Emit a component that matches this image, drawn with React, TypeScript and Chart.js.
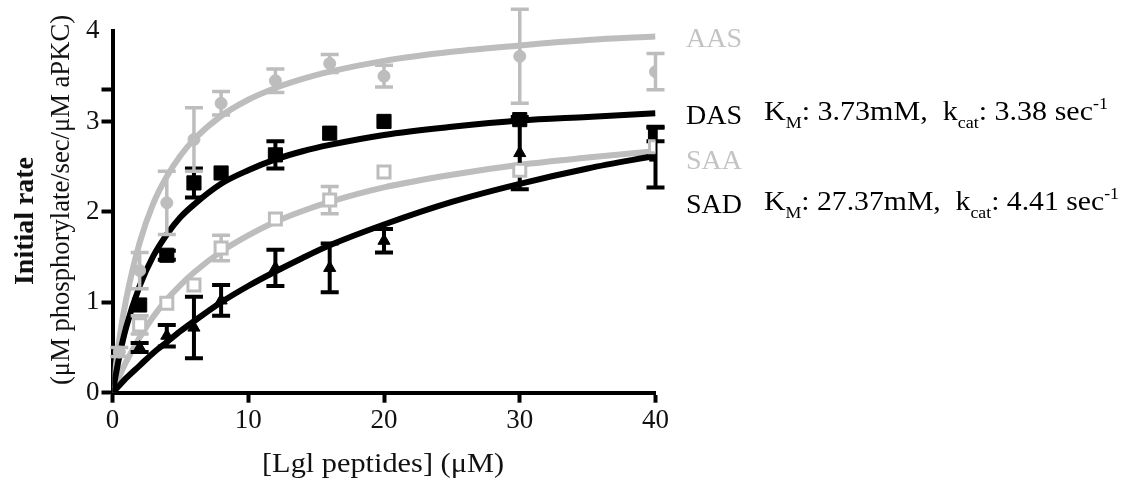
import React, { useEffect, useRef } from 'react';
import { Chart, registerables } from 'chart.js';

Chart.register(...registerables);

// ---- axis ticks ----
const xTickValues = [0, 10, 20, 30, 40];
const yTickValues = [0, 1, 2, 3, 3.35, 4];

// ---- fitted curves ----
const fitX = [0, 0.5, 1, 2, 3, 4, 5, 6, 8, 10, 12, 14, 16, 20, 25, 30, 35, 40];
const aasFit = [0, 0.59, 1.03, 1.66, 2.09, 2.39, 2.62, 2.8, 3.06, 3.24, 3.37, 3.47, 3.55, 3.67, 3.77, 3.84, 3.9, 3.94];
const dasFit = [0, 0.4, 0.72, 1.18, 1.51, 1.75, 1.94, 2.08, 2.31, 2.46, 2.58, 2.67, 2.74, 2.85, 2.94, 3.01, 3.05, 3.09];
const saaFit = [0, 0.18, 0.34, 0.61, 0.84, 1.03, 1.19, 1.33, 1.56, 1.74, 1.89, 2.01, 2.11, 2.27, 2.41, 2.52, 2.6, 2.67];
const sadFit = [0, 0.08, 0.16, 0.3, 0.44, 0.56, 0.68, 0.79, 1.0, 1.18, 1.34, 1.49, 1.63, 1.86, 2.11, 2.31, 2.48, 2.62];

// ---- measured points ----
const aasX = [0.5, 2, 4, 6, 8, 12, 16, 20, 30, 40];
const aasY = [0.45, 1.35, 2.1, 2.8, 3.2, 3.45, 3.64, 3.5, 3.72, 3.55];
const aasErr = [0.05, 0.2, 0.35, 0.35, 0.13, 0.13, 0.1, 0.12, 0.52, 0.2];

const dasX = [2, 4, 6, 8, 12, 16, 20, 30, 40];
const dasY = [0.97, 1.52, 2.32, 2.43, 2.63, 2.87, 3.0, 3.02, 2.86];
const dasErr = [0, 0.05, 0.16, 0, 0.15, 0, 0, 0, 0.08];

const saaX = [2, 4, 6, 8, 12, 16, 20, 30, 40];
const saaY = [0.75, 0.99, 1.19, 1.6, 1.92, 2.13, 2.44, 2.46, 2.72];
const saaErr = [0.1, 0, 0, 0.14, 0, 0.15, 0, 0, 0];

const sadX = [2, 4, 6, 8, 12, 16, 20, 30, 40];
const sadY = [0.5, 0.63, 0.72, 1.02, 1.38, 1.38, 1.68, 2.65, 2.6];
const sadErr = [0.05, 0.12, 0.34, 0.17, 0.2, 0.27, 0.13, 0.4, 0.33];

const GRAY = '#bdbdbd';
const BLACK = '#000000';
const SERIF = "'Liberation Serif', 'Times New Roman', serif";

type Part = { t: string; sub?: boolean; sup?: boolean };

function drawRich(
  ctx: CanvasRenderingContext2D,
  x: number,
  y: number,
  parts: Part[],
  size: number,
  color: string,
  targetWidth?: number
) {
  const small = size * 0.6;
  let total = 0;
  for (const p of parts) {
    ctx.font = `${p.sub || p.sup ? small : size}px ${SERIF}`;
    total += ctx.measureText(p.t).width;
  }
  ctx.save();
  ctx.translate(x, y);
  if (targetWidth) ctx.scale(targetWidth / total, 1);
  ctx.fillStyle = color;
  ctx.textAlign = 'left';
  ctx.textBaseline = 'alphabetic';
  let cx = 0;
  for (const p of parts) {
    ctx.font = `${p.sub || p.sup ? small : size}px ${SERIF}`;
    const dy = p.sub ? size * 0.3 : p.sup ? -size * 0.4 : 0;
    ctx.fillText(p.t, cx, dy);
    cx += ctx.measureText(p.t).width;
  }
  ctx.restore();
}

function drawFitted(
  ctx: CanvasRenderingContext2D,
  text: string,
  x: number,
  y: number,
  font: string,
  color: string,
  targetWidth: number,
  rotate: boolean
) {
  ctx.save();
  ctx.font = font;
  const w = ctx.measureText(text).width;
  ctx.translate(x, y);
  if (rotate) ctx.rotate(-Math.PI / 2);
  ctx.scale(targetWidth / w, 1);
  ctx.fillStyle = color;
  ctx.textAlign = 'center';
  ctx.textBaseline = 'alphabetic';
  ctx.fillText(text, 0, 0);
  ctx.restore();
}

const errorBarPlugin = {
  id: 'errorBars',
  beforeDatasetDraw(chart: any, args: any) {
    const ds = chart.data.datasets[args.index];
    if (!ds.errors) return;
    const ctx = chart.ctx;
    const xs = chart.scales.x;
    const ys = chart.scales.y;
    ctx.save();
    ctx.strokeStyle = ds.errorColor;
    ctx.lineWidth = ds.errorWidth;
    ctx.lineCap = 'butt';
    ds.data.forEach((pt: any, i: number) => {
      const e = ds.errors[i];
      if (!(e > 0)) return;
      const px = xs.getPixelForValue(pt.x);
      const top = ys.getPixelForValue(pt.y + e);
      const bot = ys.getPixelForValue(pt.y - e);
      const half = 9;
      ctx.beginPath();
      ctx.moveTo(px, top);
      ctx.lineTo(px, bot);
      ctx.moveTo(px - half, top);
      ctx.lineTo(px + half, top);
      ctx.moveTo(px - half, bot);
      ctx.lineTo(px + half, bot);
      ctx.stroke();
    });
    ctx.restore();
  },
};

const textPlugin = {
  id: 'textLabels',
  afterDraw(chart: any) {
    const ctx: CanvasRenderingContext2D = chart.ctx;
    // series labels
    ctx.save();
    ctx.font = `28px ${SERIF}`;
    ctx.textAlign = 'left';
    ctx.textBaseline = 'alphabetic';
    ctx.fillStyle = '#c4c4c4';
    ctx.fillText('AAS', 686, 47);
    ctx.fillText('SAA', 686, 169);
    ctx.fillStyle = BLACK;
    ctx.fillText('DAS', 686, 124);
    ctx.fillText('SAD', 686, 213);
    ctx.restore();

    drawRich(
      ctx,
      764,
      120,
      [
        { t: 'K' },
        { t: 'M', sub: true },
        { t: ': 3.73mM,  k' },
        { t: 'cat', sub: true },
        { t: ': 3.38 sec' },
        { t: '-1', sup: true },
      ],
      27,
      BLACK,
      344
    );
    drawRich(
      ctx,
      764,
      210,
      [
        { t: 'K' },
        { t: 'M', sub: true },
        { t: ': 27.37mM,  k' },
        { t: 'cat', sub: true },
        { t: ': 4.41 sec' },
        { t: '-1', sup: true },
      ],
      27,
      BLACK,
      355
    );

    // axis titles
    drawFitted(ctx, '[Lgl peptides] (\u03bcM)', 383, 472, `28px ${SERIF}`, '#111', 242, false);
    drawFitted(ctx, 'Initial rate', 33, 221, `bold 28px ${SERIF}`, '#111', 128, true);
    drawFitted(ctx, '(\u03bcM phosphorylate/sec/\u03bcM aPKC)', 69, 200, `27px ${SERIF}`, '#111', 370, true);
  },
};

export default function App() {
  const canvasRef = useRef<HTMLCanvasElement | null>(null);

  useEffect(() => {
    if (!canvasRef.current) return;
    const pts = (xs: number[], ys: number[]) => xs.map((x, i) => ({ x, y: ys[i] }));

    const curve = (ys: number[], color: string, order: number) => ({
      type: 'line' as const,
      data: pts(fitX, ys),
      borderColor: color,
      borderWidth: 6,
      pointRadius: 0,
      fill: false,
      cubicInterpolationMode: 'monotone' as const,
      order,
    });

    const chart = new Chart(canvasRef.current, {
      type: 'scatter',
      data: {
        datasets: [
          curve(aasFit, GRAY, 20),
          curve(saaFit, GRAY, 19),
          curve(dasFit, BLACK, 18),
          curve(sadFit, BLACK, 17),
          {
            label: 'SAD',
            data: pts(sadX, sadY),
            errors: sadErr,
            errorColor: BLACK,
            errorWidth: 4,
            pointStyle: 'triangle',
            pointRadius: 7,
            backgroundColor: BLACK,
            borderColor: BLACK,
            borderWidth: 1,
            showLine: false,
            order: 8,
          } as any,
          {
            label: 'DAS',
            data: pts(dasX, dasY),
            errors: dasErr,
            errorColor: BLACK,
            errorWidth: 4,
            pointStyle: 'rect',
            pointRadius: 10,
            backgroundColor: BLACK,
            borderColor: BLACK,
            borderWidth: 1,
            showLine: false,
            order: 7,
          } as any,
          {
            label: 'AAS',
            data: pts(aasX, aasY),
            errors: aasErr,
            errorColor: GRAY,
            errorWidth: 3.5,
            pointStyle: 'circle',
            pointRadius: 6,
            backgroundColor: GRAY,
            borderColor: GRAY,
            borderWidth: 1,
            showLine: false,
            order: 6,
          } as any,
          {
            label: 'SAA',
            data: pts(saaX, saaY),
            errors: saaErr,
            errorColor: GRAY,
            errorWidth: 3.5,
            pointStyle: 'rect',
            pointRadius: 8.5,
            backgroundColor: '#ffffff',
            borderColor: GRAY,
            borderWidth: 3,
            showLine: false,
            order: 5,
          } as any,
        ],
      },
      options: {
        animation: false,
        responsive: true,
        maintainAspectRatio: false,
        layout: { padding: { left: 0, top: 31, right: 1125 - 655.5, bottom: 0 } },
        plugins: {
          legend: { display: false },
          tooltip: { enabled: false },
        },
        scales: {
          x: {
            type: 'linear',
            min: 0,
            max: 40,
            afterBuildTicks: (scale: any) => {
              scale.ticks = xTickValues.map((v) => ({ value: v }));
            },
            afterFit: (scale: any) => {
              scale.height = 479 - 392.7;
            },
            ticks: {
              color: '#111',
              font: { family: SERIF, size: 27 },
              padding: 2,
              maxRotation: 0,
              callback: (v: any) => String(v),
            },
            grid: {
              display: true,
              drawOnChartArea: false,
              drawTicks: true,
              tickLength: 10,
              tickWidth: 4,
              tickColor: BLACK,
            },
            border: { display: true, color: BLACK, width: 4 },
          },
          y: {
            type: 'linear',
            min: 0,
            max: 4,
            afterBuildTicks: (scale: any) => {
              scale.ticks = yTickValues.map((v) => ({ value: v }));
            },
            afterFit: (scale: any) => {
              scale.width = 112.5;
            },
            ticks: {
              color: '#111',
              font: { family: SERIF, size: 27 },
              padding: 2,
              callback: (v: any) => (Number.isInteger(v) ? String(v) : ''),
            },
            grid: {
              display: true,
              drawOnChartArea: false,
              drawTicks: true,
              tickLength: 11,
              tickWidth: 4,
              tickColor: (c: any) => (c.tick && c.tick.value === 4 ? 'rgba(0,0,0,0)' : BLACK),
            },
            border: { display: true, color: BLACK, width: 4 },
          },
        },
      },
      plugins: [errorBarPlugin, textPlugin],
    } as any);

    return () => chart.destroy();
  }, []);

  return (
    <div style={{ position: 'absolute', left: 0, top: 0, width: 1125, height: 479, background: '#fff' }}>
      <canvas ref={canvasRef} />
    </div>
  );
}
